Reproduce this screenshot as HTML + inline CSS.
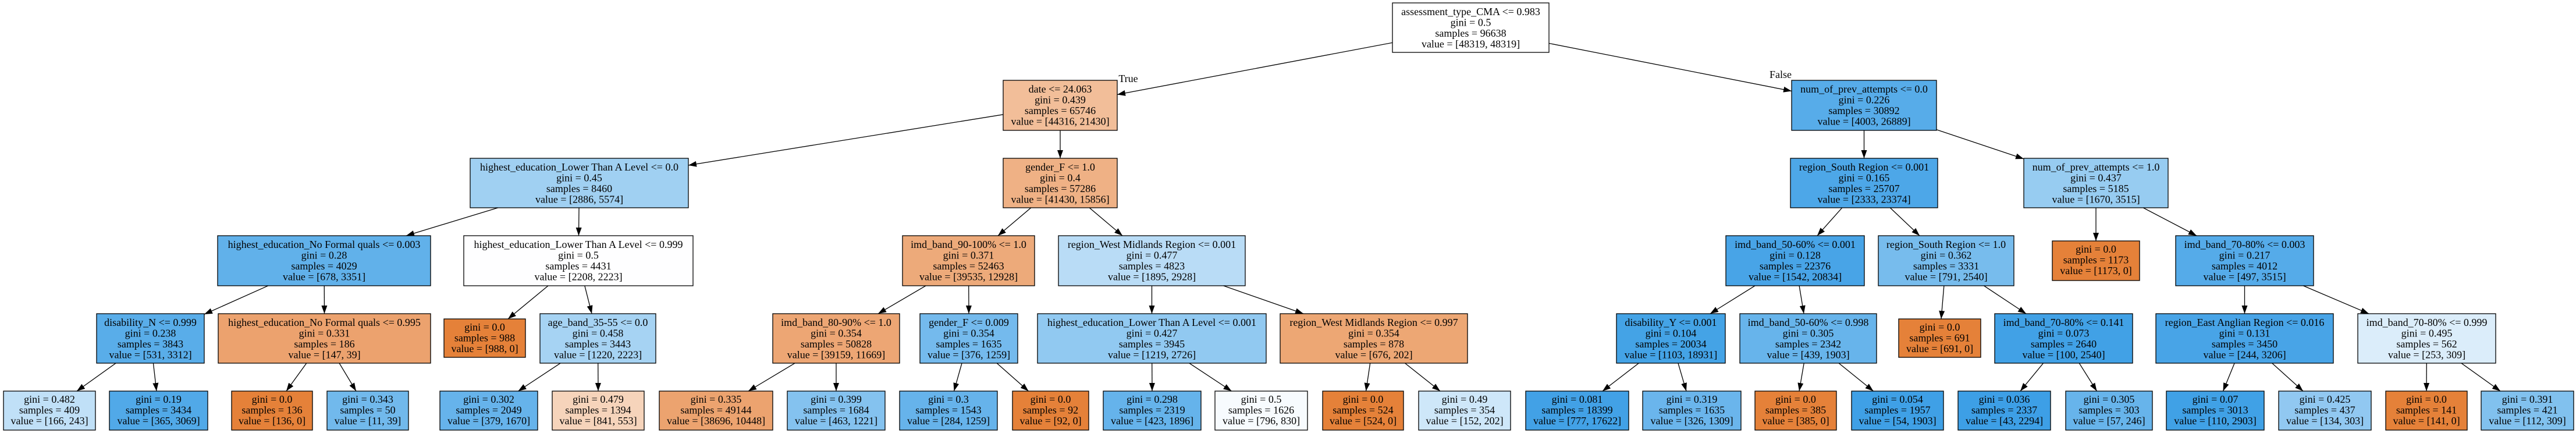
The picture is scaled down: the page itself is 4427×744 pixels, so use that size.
<!DOCTYPE html>
<html><head><meta charset="utf-8"><style>
html,body{margin:0;padding:0;background:#fff;width:4427px;height:744px;overflow:hidden}
text{font-family:"Liberation Serif","Times New Roman",serif;font-size:18px;fill:#000;text-anchor:middle}
rect{stroke:#000;stroke-width:1.3}
line{stroke:#000;stroke-width:1.3}
</style></head><body>
<svg width="4427" height="744" viewBox="0 0 4427 744" xmlns="http://www.w3.org/2000/svg">
<defs><marker id="a" markerUnits="userSpaceOnUse" markerWidth="14" markerHeight="10" refX="14" refY="5" orient="auto"><path d="M0,0 L14,5 L0,10 z" fill="#000"/></marker></defs>
<g marker-end="url(#a)">
<line x1="2527.5" y1="48" x2="1920" y2="162.5"/>
<line x1="2527.5" y1="48" x2="3079" y2="156.5"/>
<line x1="1822" y1="181" x2="1183" y2="284"/>
<line x1="1822" y1="181" x2="1822" y2="272"/>
<line x1="3203.5" y1="181" x2="3203.5" y2="272"/>
<line x1="3203.5" y1="181" x2="3478" y2="273"/>
<line x1="995.5" y1="314.5" x2="698" y2="405"/>
<line x1="995.5" y1="314.5" x2="994.5" y2="405"/>
<line x1="1822" y1="314.5" x2="1715" y2="405"/>
<line x1="1822" y1="314.5" x2="1929" y2="405"/>
<line x1="3203.5" y1="314.5" x2="3123" y2="405"/>
<line x1="3203.5" y1="314.5" x2="3299" y2="405"/>
<line x1="3602" y1="314.5" x2="3602" y2="414"/>
<line x1="3602" y1="314.5" x2="3775" y2="405"/>
<line x1="557" y1="448" x2="351" y2="540"/>
<line x1="557" y1="448" x2="557.5" y2="539"/>
<line x1="994" y1="448" x2="873" y2="548"/>
<line x1="994" y1="448" x2="1017" y2="539"/>
<line x1="1664.5" y1="448" x2="1509" y2="539"/>
<line x1="1664.5" y1="448" x2="1665" y2="539"/>
<line x1="1979.5" y1="448" x2="1979.5" y2="539"/>
<line x1="1979.5" y1="448" x2="2240" y2="539"/>
<line x1="3085" y1="448" x2="2939" y2="539"/>
<line x1="3085" y1="448" x2="3100" y2="539"/>
<line x1="3344.5" y1="448" x2="3336" y2="548"/>
<line x1="3344.5" y1="448" x2="3482" y2="539"/>
<line x1="3857.5" y1="448" x2="3857.5" y2="539"/>
<line x1="3857.5" y1="448" x2="4071" y2="539"/>
<line x1="258.5" y1="581.5" x2="132" y2="672"/>
<line x1="258.5" y1="581.5" x2="269" y2="672"/>
<line x1="557.5" y1="581.5" x2="492" y2="672"/>
<line x1="557.5" y1="581.5" x2="612" y2="672"/>
<line x1="1027.5" y1="581.5" x2="890.5" y2="672"/>
<line x1="1027.5" y1="581.5" x2="1028" y2="672"/>
<line x1="1437" y1="581.5" x2="1286" y2="672"/>
<line x1="1437" y1="581.5" x2="1437" y2="672"/>
<line x1="1665" y1="581.5" x2="1639.5" y2="672"/>
<line x1="1665" y1="581.5" x2="1767.5" y2="672"/>
<line x1="1979.5" y1="581.5" x2="1980" y2="672"/>
<line x1="1979.5" y1="581.5" x2="2116.5" y2="672"/>
<line x1="2361" y1="581.5" x2="2347.5" y2="672"/>
<line x1="2361" y1="581.5" x2="2475" y2="672"/>
<line x1="2871.5" y1="581.5" x2="2754" y2="672"/>
<line x1="2871.5" y1="581.5" x2="2898" y2="672"/>
<line x1="3107.5" y1="581.5" x2="3092" y2="672"/>
<line x1="3107.5" y1="581.5" x2="3219.5" y2="672"/>
<line x1="3546.5" y1="581.5" x2="3472" y2="672"/>
<line x1="3546.5" y1="581.5" x2="3603.5" y2="672"/>
<line x1="3857.5" y1="581.5" x2="3820.5" y2="672"/>
<line x1="3857.5" y1="581.5" x2="3958" y2="672"/>
<line x1="4170.5" y1="581.5" x2="4170" y2="672"/>
<line x1="4170.5" y1="581.5" x2="4297" y2="672"/>
</g>
<text x="1939" y="141">True</text>
<text x="3060" y="134">False</text>

<!-- L0 -->
<rect x="2393" y="5" width="269" height="85" fill="#ffffff"/>
<text x="2527.5" y="26">assessment_type_CMA &lt;= 0.983</text><text x="2527.5" y="44.5">gini = 0.5</text><text x="2527.5" y="63">samples = 96638</text><text x="2527.5" y="81.5">value = [48319, 48319]</text>
<!-- L1 -->
<rect x="1724" y="138" width="196" height="86" fill="rgb(242,190,153)"/>
<text x="1822" y="159">date &lt;= 24.063</text><text x="1822" y="177.5">gini = 0.439</text><text x="1822" y="196">samples = 65746</text><text x="1822" y="214.5">value = [44316, 21430]</text>
<rect x="3079" y="138" width="249" height="86" fill="rgb(87,172,233)"/>
<text x="3203.5" y="159">num_of_prev_attempts &lt;= 0.0</text><text x="3203.5" y="177.5">gini = 0.226</text><text x="3203.5" y="196">samples = 30892</text><text x="3203.5" y="214.5">value = [4003, 26889]</text>
<!-- L2 -->
<rect x="808" y="272" width="375" height="85" fill="rgb(160,208,242)"/>
<text x="995.5" y="293">highest_education_Lower Than A Level &lt;= 0.0</text><text x="995.5" y="311.5">gini = 0.45</text><text x="995.5" y="330">samples = 8460</text><text x="995.5" y="348.5">value = [2886, 5574]</text>
<rect x="1724" y="272" width="196" height="85" fill="rgb(239,177,133)"/>
<text x="1822" y="293">gender_F &lt;= 1.0</text><text x="1822" y="311.5">gini = 0.4</text><text x="1822" y="330">samples = 57286</text><text x="1822" y="348.5">value = [41430, 15856]</text>
<rect x="3077" y="272" width="253" height="85" fill="rgb(77,167,232)"/>
<text x="3203.5" y="293">region_South Region &lt;= 0.001</text><text x="3203.5" y="311.5">gini = 0.165</text><text x="3203.5" y="330">samples = 25707</text><text x="3203.5" y="348.5">value = [2333, 23374]</text>
<rect x="3478" y="272" width="248" height="85" fill="rgb(151,204,241)"/>
<text x="3602" y="293">num_of_prev_attempts &lt;= 1.0</text><text x="3602" y="311.5">gini = 0.437</text><text x="3602" y="330">samples = 5185</text><text x="3602" y="348.5">value = [1670, 3515]</text>
<!-- L3 -->
<rect x="374" y="405" width="366" height="86" fill="rgb(97,177,234)"/>
<text x="557" y="426">highest_education_No Formal quals &lt;= 0.003</text><text x="557" y="444.5">gini = 0.28</text><text x="557" y="463">samples = 4029</text><text x="557" y="481.5">value = [678, 3351]</text>
<rect x="797" y="405" width="394" height="86" fill="rgb(254,254,255)"/>
<text x="994" y="426">highest_education_Lower Than A Level &lt;= 0.999</text><text x="994" y="444.5">gini = 0.5</text><text x="994" y="463">samples = 4431</text><text x="994" y="481.5">value = [2208, 2223]</text>
<rect x="1551" y="405" width="227" height="86" fill="rgb(237,170,122)"/>
<text x="1664.5" y="426">imd_band_90-100% &lt;= 1.0</text><text x="1664.5" y="444.5">gini = 0.371</text><text x="1664.5" y="463">samples = 52463</text><text x="1664.5" y="481.5">value = [39535, 12928]</text>
<rect x="1819" y="405" width="321" height="86" fill="rgb(185,220,246)"/>
<text x="1979.5" y="426">region_West Midlands Region &lt;= 0.001</text><text x="1979.5" y="444.5">gini = 0.477</text><text x="1979.5" y="463">samples = 4823</text><text x="1979.5" y="481.5">value = [1895, 2928]</text>
<rect x="2966" y="405" width="238" height="86" fill="rgb(72,164,231)"/>
<text x="3085" y="426">imd_band_50-60% &lt;= 0.001</text><text x="3085" y="444.5">gini = 0.128</text><text x="3085" y="463">samples = 22376</text><text x="3085" y="481.5">value = [1542, 20834]</text>
<rect x="3228" y="405" width="233" height="86" fill="rgb(119,188,237)"/>
<text x="3344.5" y="426">region_South Region &lt;= 1.0</text><text x="3344.5" y="444.5">gini = 0.362</text><text x="3344.5" y="463">samples = 3331</text><text x="3344.5" y="481.5">value = [791, 2540]</text>
<rect x="3527" y="414" width="150" height="68" fill="rgb(229,129,57)"/>
<text x="3602" y="434">gini = 0.0</text><text x="3602" y="452.5">samples = 1173</text><text x="3602" y="471">value = [1173, 0]</text>
<rect x="3739" y="405" width="237" height="86" fill="rgb(85,171,233)"/>
<text x="3857.5" y="426">imd_band_70-80% &lt;= 0.003</text><text x="3857.5" y="444.5">gini = 0.217</text><text x="3857.5" y="463">samples = 4012</text><text x="3857.5" y="481.5">value = [497, 3515]</text>
<!-- L4 -->
<rect x="166" y="539" width="185" height="85" fill="rgb(89,173,233)"/>
<text x="258.5" y="560">disability_N &lt;= 0.999</text><text x="258.5" y="578.5">gini = 0.238</text><text x="258.5" y="597">samples = 3843</text><text x="258.5" y="615.5">value = [531, 3312]</text>
<rect x="375" y="539" width="365" height="85" fill="rgb(236,162,110)"/>
<text x="557.5" y="560">highest_education_No Formal quals &lt;= 0.995</text><text x="557.5" y="578.5">gini = 0.331</text><text x="557.5" y="597">samples = 186</text><text x="557.5" y="615.5">value = [147, 39]</text>
<rect x="763" y="548" width="140" height="66" fill="rgb(229,129,57)"/>
<text x="833" y="568">gini = 0.0</text><text x="833" y="586.5">samples = 988</text><text x="833" y="605">value = [988, 0]</text>
<rect x="928" y="539" width="199" height="85" fill="rgb(166,211,243)"/>
<text x="1027.5" y="560">age_band_35-55 &lt;= 0.0</text><text x="1027.5" y="578.5">gini = 0.458</text><text x="1027.5" y="597">samples = 3443</text><text x="1027.5" y="615.5">value = [1220, 2223]</text>
<rect x="1328" y="539" width="218" height="85" fill="rgb(237,166,116)"/>
<text x="1437" y="560">imd_band_80-90% &lt;= 1.0</text><text x="1437" y="578.5">gini = 0.354</text><text x="1437" y="597">samples = 50828</text><text x="1437" y="615.5">value = [39159, 11669]</text>
<rect x="1581" y="539" width="168" height="85" fill="rgb(116,186,237)"/>
<text x="1665" y="560">gender_F &lt;= 0.009</text><text x="1665" y="578.5">gini = 0.354</text><text x="1665" y="597">samples = 1635</text><text x="1665" y="615.5">value = [376, 1259]</text>
<rect x="1783" y="539" width="393" height="85" fill="rgb(145,201,241)"/>
<text x="1979.5" y="560">highest_education_Lower Than A Level &lt;= 0.001</text><text x="1979.5" y="578.5">gini = 0.427</text><text x="1979.5" y="597">samples = 3945</text><text x="1979.5" y="615.5">value = [1219, 2726]</text>
<rect x="2200" y="539" width="322" height="85" fill="rgb(237,167,116)"/>
<text x="2361" y="560">region_West Midlands Region &lt;= 0.997</text><text x="2361" y="578.5">gini = 0.354</text><text x="2361" y="597">samples = 878</text><text x="2361" y="615.5">value = [676, 202]</text>
<rect x="2778" y="539" width="187" height="85" fill="rgb(68,163,230)"/>
<text x="2871.5" y="560">disability_Y &lt;= 0.001</text><text x="2871.5" y="578.5">gini = 0.104</text><text x="2871.5" y="597">samples = 20034</text><text x="2871.5" y="615.5">value = [1103, 18931]</text>
<rect x="2990" y="539" width="235" height="85" fill="rgb(103,180,235)"/>
<text x="3107.5" y="560">imd_band_50-60% &lt;= 0.998</text><text x="3107.5" y="578.5">gini = 0.305</text><text x="3107.5" y="597">samples = 2342</text><text x="3107.5" y="615.5">value = [439, 1903]</text>
<rect x="3263" y="548" width="141" height="66" fill="rgb(229,129,57)"/>
<text x="3333.5" y="568">gini = 0.0</text><text x="3333.5" y="586.5">samples = 691</text><text x="3333.5" y="605">value = [691, 0]</text>
<rect x="3428" y="539" width="237" height="85" fill="rgb(65,161,230)"/>
<text x="3546.5" y="560">imd_band_70-80% &lt;= 0.141</text><text x="3546.5" y="578.5">gini = 0.073</text><text x="3546.5" y="597">samples = 2640</text><text x="3546.5" y="615.5">value = [100, 2540]</text>
<rect x="3705" y="539" width="305" height="85" fill="rgb(72,164,231)"/>
<text x="3857.5" y="560">region_East Anglian Region &lt;= 0.016</text><text x="3857.5" y="578.5">gini = 0.131</text><text x="3857.5" y="597">samples = 3450</text><text x="3857.5" y="615.5">value = [244, 3206]</text>
<rect x="4052" y="539" width="237" height="85" fill="rgb(219,237,250)"/>
<text x="4170.5" y="560">imd_band_70-80% &lt;= 0.999</text><text x="4170.5" y="578.5">gini = 0.495</text><text x="4170.5" y="597">samples = 562</text><text x="4170.5" y="615.5">value = [253, 309]</text>
<!-- L5 -->
<rect x="6" y="672" width="158" height="67" fill="rgb(192,224,247)"/>
<text x="85" y="692">gini = 0.482</text><text x="85" y="710.5">samples = 409</text><text x="85" y="729">value = [166, 243]</text>
<rect x="188" y="672" width="169" height="67" fill="rgb(81,169,232)"/>
<text x="272.5" y="692">gini = 0.19</text><text x="272.5" y="710.5">samples = 3434</text><text x="272.5" y="729">value = [365, 3069]</text>
<rect x="398" y="672" width="139" height="67" fill="rgb(229,129,57)"/>
<text x="467.5" y="692">gini = 0.0</text><text x="467.5" y="710.5">samples = 136</text><text x="467.5" y="729">value = [136, 0]</text>
<rect x="562" y="672" width="140" height="67" fill="rgb(113,185,236)"/>
<text x="632" y="692">gini = 0.343</text><text x="632" y="710.5">samples = 50</text><text x="632" y="729">value = [11, 39]</text>
<rect x="756" y="672" width="168" height="67" fill="rgb(102,179,235)"/>
<text x="840" y="692">gini = 0.302</text><text x="840" y="710.5">samples = 2049</text><text x="840" y="729">value = [379, 1670]</text>
<rect x="949" y="672" width="158" height="67" fill="rgb(246,212,187)"/>
<text x="1028" y="692">gini = 0.479</text><text x="1028" y="710.5">samples = 1394</text><text x="1028" y="729">value = [841, 553]</text>
<rect x="1133" y="672" width="195" height="67" fill="rgb(236,163,111)"/>
<text x="1230.5" y="692">gini = 0.335</text><text x="1230.5" y="710.5">samples = 49144</text><text x="1230.5" y="729">value = [38696, 10448]</text>
<rect x="1353" y="672" width="168" height="67" fill="rgb(132,194,239)"/>
<text x="1437" y="692">gini = 0.399</text><text x="1437" y="710.5">samples = 1684</text><text x="1437" y="729">value = [463, 1221]</text>
<rect x="1546" y="672" width="168" height="67" fill="rgb(102,179,235)"/>
<text x="1630" y="692">gini = 0.3</text><text x="1630" y="710.5">samples = 1543</text><text x="1630" y="729">value = [284, 1259]</text>
<rect x="1740" y="672" width="131" height="67" fill="rgb(229,129,57)"/>
<text x="1805.5" y="692">gini = 0.0</text><text x="1805.5" y="710.5">samples = 92</text><text x="1805.5" y="729">value = [92, 0]</text>
<rect x="1896" y="672" width="168" height="67" fill="rgb(101,179,235)"/>
<text x="1980" y="692">gini = 0.298</text><text x="1980" y="710.5">samples = 2319</text><text x="1980" y="729">value = [423, 1896]</text>
<rect x="2088" y="672" width="159" height="67" fill="rgb(247,251,254)"/>
<text x="2167.5" y="692">gini = 0.5</text><text x="2167.5" y="710.5">samples = 1626</text><text x="2167.5" y="729">value = [796, 830]</text>
<rect x="2273" y="672" width="139" height="67" fill="rgb(229,129,57)"/>
<text x="2342.5" y="692">gini = 0.0</text><text x="2342.5" y="710.5">samples = 524</text><text x="2342.5" y="729">value = [524, 0]</text>
<rect x="2438" y="672" width="158" height="67" fill="rgb(206,231,249)"/>
<text x="2517" y="692">gini = 0.49</text><text x="2517" y="710.5">samples = 354</text><text x="2517" y="729">value = [152, 202]</text>
<rect x="2622" y="672" width="177" height="67" fill="rgb(66,161,230)"/>
<text x="2710.5" y="692">gini = 0.081</text><text x="2710.5" y="710.5">samples = 18399</text><text x="2710.5" y="729">value = [777, 17622]</text>
<rect x="2823" y="672" width="169" height="67" fill="rgb(106,181,236)"/>
<text x="2907.5" y="692">gini = 0.319</text><text x="2907.5" y="710.5">samples = 1635</text><text x="2907.5" y="729">value = [326, 1309]</text>
<rect x="3016" y="672" width="140" height="67" fill="rgb(229,129,57)"/>
<text x="3086" y="692">gini = 0.0</text><text x="3086" y="710.5">samples = 385</text><text x="3086" y="729">value = [385, 0]</text>
<rect x="3182" y="672" width="158" height="67" fill="rgb(63,160,230)"/>
<text x="3261" y="692">gini = 0.054</text><text x="3261" y="710.5">samples = 1957</text><text x="3261" y="729">value = [54, 1903]</text>
<rect x="3365" y="672" width="159" height="67" fill="rgb(61,159,230)"/>
<text x="3444.5" y="692">gini = 0.036</text><text x="3444.5" y="710.5">samples = 2337</text><text x="3444.5" y="729">value = [43, 2294]</text>
<rect x="3550" y="672" width="149" height="67" fill="rgb(103,180,235)"/>
<text x="3624.5" y="692">gini = 0.305</text><text x="3624.5" y="710.5">samples = 303</text><text x="3624.5" y="729">value = [57, 246]</text>
<rect x="3723" y="672" width="168" height="67" fill="rgb(64,161,230)"/>
<text x="3807" y="692">gini = 0.07</text><text x="3807" y="710.5">samples = 3013</text><text x="3807" y="729">value = [110, 2903]</text>
<rect x="3916" y="672" width="159" height="67" fill="rgb(145,200,241)"/>
<text x="3995.5" y="692">gini = 0.425</text><text x="3995.5" y="710.5">samples = 437</text><text x="3995.5" y="729">value = [134, 303]</text>
<rect x="4100" y="672" width="140" height="67" fill="rgb(229,129,57)"/>
<text x="4170" y="692">gini = 0.0</text><text x="4170" y="710.5">samples = 141</text><text x="4170" y="729">value = [141, 0]</text>
<rect x="4264" y="672" width="159" height="67" fill="rgb(129,193,238)"/>
<text x="4343.5" y="692">gini = 0.391</text><text x="4343.5" y="710.5">samples = 421</text><text x="4343.5" y="729">value = [112, 309]</text>
</svg>
</body></html>
